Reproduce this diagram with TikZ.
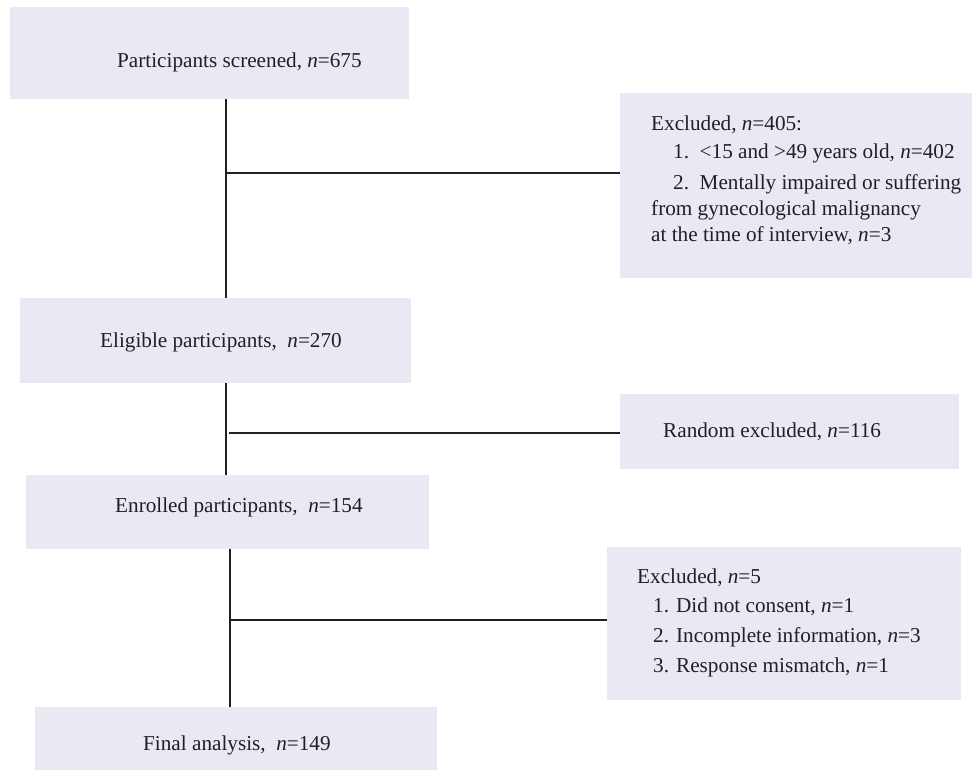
\documentclass[tikz,border=0pt]{standalone}
\usepackage{fontspec}
\setmainfont{Liberation Serif}
\definecolor{boxfill}{RGB}{233,232,243}
\definecolor{ink}{RGB}{35,31,32}
\begin{document}
\begin{tikzpicture}[x=1pt,y=-1pt,
  box/.style={fill=boxfill, draw=none, inner sep=0pt, anchor=north west},
  txt/.style={inner sep=0pt, anchor=base west, text=ink, font=\fontsize{21.2}{27.5}\selectfont},
  conn/.style={draw=ink, line width=1.7pt}]
\useasboundingbox (0,0) rectangle (973,770);
% boxes
\node[box, minimum width=399pt, minimum height=92pt]  (b1) at (10,7) {};
\node[box, minimum width=352pt, minimum height=185pt] (b2) at (620,93) {};
\node[box, minimum width=391pt, minimum height=85pt]  (b3) at (20,298) {};
\node[box, minimum width=339pt, minimum height=75pt]  (b7) at (620,394) {};
\node[box, minimum width=403pt, minimum height=74pt]  (b4) at (26,475) {};
\node[box, minimum width=354pt, minimum height=153pt] (b5) at (607,547) {};
\node[box, minimum width=402pt, minimum height=63pt]  (b6) at (35,707) {};
% texts
\node[txt] (t1) at (117,68) {Participants screened, \textit{n}=675};
\node[txt] (t2a) at (651,131) {Excluded, \textit{n}=405:};
\node[txt] (t2b) at (673,159) {1.\ \ <15 and >49 years old, \textit{n}=402};
\node[txt] (t2c) at (673,189) {2.\ \ Mentally impaired or suffering};
\node[txt] (t2d) at (651,215) {from gynecological malignancy};
\node[txt] (t2e) at (651,241) {at the time of interview, \textit{n}=3};
\node[txt] (t3) at (100,347) {Eligible participants,\ \ \textit{n}=270};
\node[txt] (t7) at (663,437) {Random excluded, \textit{n}=116};
\node[txt] (t4) at (115,512) {Enrolled participants,\ \ \textit{n}=154};
\node[txt] (t5a) at (637,583) {Excluded, \textit{n}=5};
\node[txt] (t5b) at (653,612) {1. Did not consent, \textit{n}=1};
\node[txt] (t5c) at (653,642) {2. Incomplete information, \textit{n}=3};
\node[txt] (t5d) at (653,672) {3. Response mismatch, \textit{n}=1};
\node[txt] (t6) at (143,750) {Final analysis,\ \ \textit{n}=149};
% connectors
\coordinate (v1) at (226,173);
\draw[conn] (b1.south -| v1) -- (b3.north -| v1);
\draw[conn] (v1) -- (v1 -| b2.west);
\coordinate (v2x) at (226,433);
\coordinate (v2) at (229,433);
\draw[conn] (b3.south -| v2x) -- (b4.north -| v2x);
\draw[conn] (v2) -- (v2 -| b7.west);
\coordinate (v3) at (230,620);
\draw[conn] (b4.south -| v3) -- (b6.north -| v3);
\draw[conn] (v3) -- (v3 -| b5.west);
\end{tikzpicture}
\end{document}
